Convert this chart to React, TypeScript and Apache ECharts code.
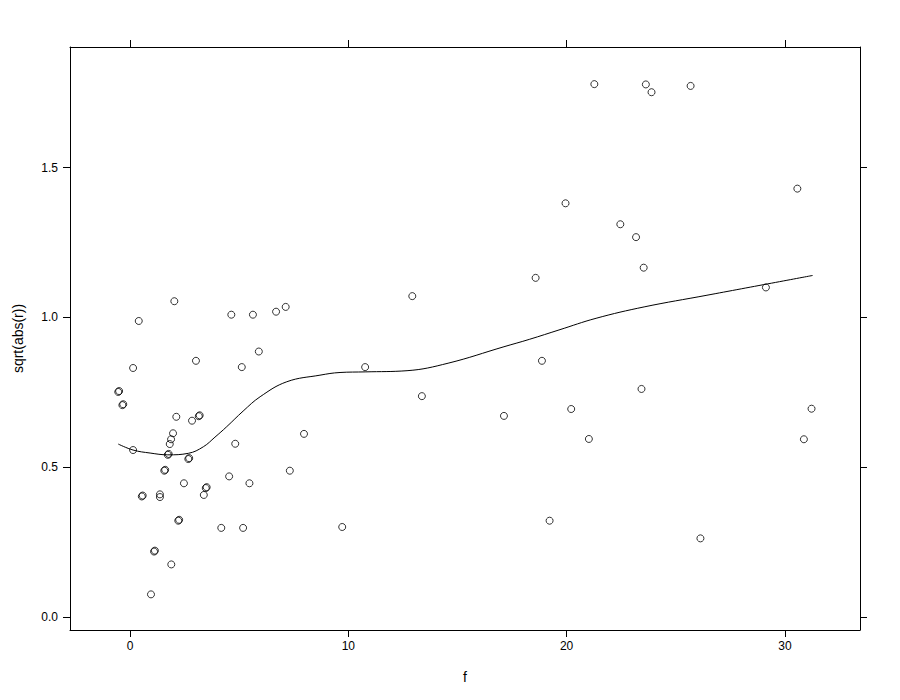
import React, { useEffect, useRef } from "react";
import * as echarts from "echarts";

const fValues = [
  2.03, 0.4, 4.64, 5.63, 6.69, 7.13, 5.9, 3.02, 5.12, 0.14,
  -0.54, -0.5, -0.35, -0.31, 2.12, 3.15, 3.19, 2.84, 1.97, 1.88,
  1.82, 4.82, 7.97, 0.14, 1.73, 1.77, 2.67, 2.71, 1.57, 1.61,
  7.32, 2.47, 4.54, 5.47, 3.47, 3.51, 3.38, 0.54, 0.58, 1.37,
  1.37, 2.21, 2.25, 4.18, 5.18, 1.1, 1.14, 1.89, 0.96, 21.27,
  23.63, 23.89, 25.68, 30.57, 19.95, 22.46, 23.18, 23.53, 18.58, 29.13,
  12.93, 10.77, 18.87, 13.37, 23.43, 17.13, 20.21, 31.22, 21.02, 30.87,
  9.72, 19.22, 26.13,
];
const rValues = [
  1.054, 0.988, 1.009, 1.009, 1.019, 1.035, 0.886, 0.855, 0.834, 0.831,
  0.751, 0.754, 0.707, 0.71, 0.668, 0.67, 0.673, 0.655, 0.613, 0.593,
  0.577, 0.578, 0.611, 0.557, 0.541, 0.544, 0.527, 0.53, 0.488, 0.491,
  0.488, 0.446, 0.469, 0.446, 0.43, 0.433, 0.407, 0.402, 0.405, 0.409,
  0.4, 0.321, 0.324, 0.297, 0.297, 0.218, 0.221, 0.175, 0.075, 1.779,
  1.778, 1.752, 1.773, 1.43, 1.381, 1.311, 1.268, 1.166, 1.132, 1.1,
  1.071, 0.834, 0.855, 0.737, 0.761, 0.671, 0.694, 0.695, 0.594, 0.593,
  0.3, 0.321, 0.262,
];

const smoothX = [
  -0.54, 0.14, 0.92, 1.73, 2.67, 3.36, 3.89, 4.43, 5.18, 5.96, 7.18,
  8.7, 9.62, 10.77, 12.69, 14.57, 17.13, 18.31, 19.65, 21.35, 23.55, 26.43, 31.27,
];
const smoothY = [
  0.577, 0.557, 0.547, 0.541, 0.546, 0.568, 0.6, 0.635, 0.687, 0.735, 0.785,
  0.807, 0.816, 0.818, 0.822, 0.847, 0.902, 0.927, 0.958, 0.997, 1.035, 1.074, 1.14,
];

const xTicks = [0, 10, 20, 30];
const yTicks = [0, 0.5, 1, 1.5];

const X_MIN = -2.75;
const X_MAX = 33.44;
const Y_MIN = -0.044;
const Y_MAX = 1.903;

export default function App() {
  const ref = useRef<HTMLDivElement>(null);
  useEffect(() => {
    if (!ref.current) return;
    const chart = echarts.init(ref.current, undefined, { renderer: "svg" });
    const font = "Liberation Sans, Arial, sans-serif";
    const lineStyle = { color: "#000", width: 1 };
    const baseX = {
      type: "value",
      min: X_MIN,
      max: X_MAX,
      splitLine: { show: false },
      axisLine: { show: true, onZero: false, lineStyle },
      axisTick: { show: true, inside: false, length: 7, customValues: xTicks, lineStyle },
    };
    const baseY = {
      type: "value",
      min: Y_MIN,
      max: Y_MAX,
      splitLine: { show: false },
      axisLine: { show: true, onZero: false, lineStyle },
      axisTick: { show: true, inside: false, length: 7, customValues: yTicks, lineStyle },
    };
    chart.setOption({
      animation: false,
      backgroundColor: "#fff",
      grid: { left: 70, right: 40, top: 47, bottom: 70, containLabel: false },
      xAxis: [
        {
          ...baseX,
          position: "bottom",
          name: "f",
          nameLocation: "middle",
          nameGap: 40,
          nameTextStyle: { color: "#000", fontSize: 14, fontFamily: font },
          axisLabel: {
            show: true,
            customValues: xTicks,
            color: "#000",
            fontSize: 12,
            fontFamily: font,
            margin: 10,
            formatter: (v: number) => String(v),
          },
        },
        {
          ...baseX,
          position: "top",
          axisLabel: { show: false },
        },
      ],
      yAxis: [
        {
          ...baseY,
          position: "left",
          name: "sqrt(abs(r))",
          nameLocation: "middle",
          nameGap: 45,
          nameRotate: 90,
          nameTextStyle: { color: "#000", fontSize: 14, fontFamily: font },
          axisLabel: {
            show: true,
            customValues: yTicks,
            color: "#000",
            fontSize: 12,
            fontFamily: font,
            margin: 12,
            formatter: (v: number) => v.toFixed(1),
          },
        },
        {
          ...baseY,
          position: "right",
          axisLabel: { show: false },
        },
      ],
      series: [
        {
          type: "scatter",
          xAxisIndex: 0,
          yAxisIndex: 0,
          symbol: "circle",
          symbolSize: 7,
          itemStyle: { color: "rgba(0,0,0,0)", borderColor: "#000", borderWidth: 1 },
          data: fValues.map((f, i) => [f, rValues[i]]),
          z: 3,
        },
        {
          type: "line",
          xAxisIndex: 0,
          yAxisIndex: 0,
          showSymbol: false,
          symbol: "none",
          smooth: 0.4,
          lineStyle: { color: "#000", width: 1 },
          data: smoothX.map((x, i) => [x, smoothY[i]]),
          z: 2,
        },
      ],
    });
    return () => chart.dispose();
  }, []);
  return <div ref={ref} style={{ width: 900, height: 700, margin: -8 }} />;
}
